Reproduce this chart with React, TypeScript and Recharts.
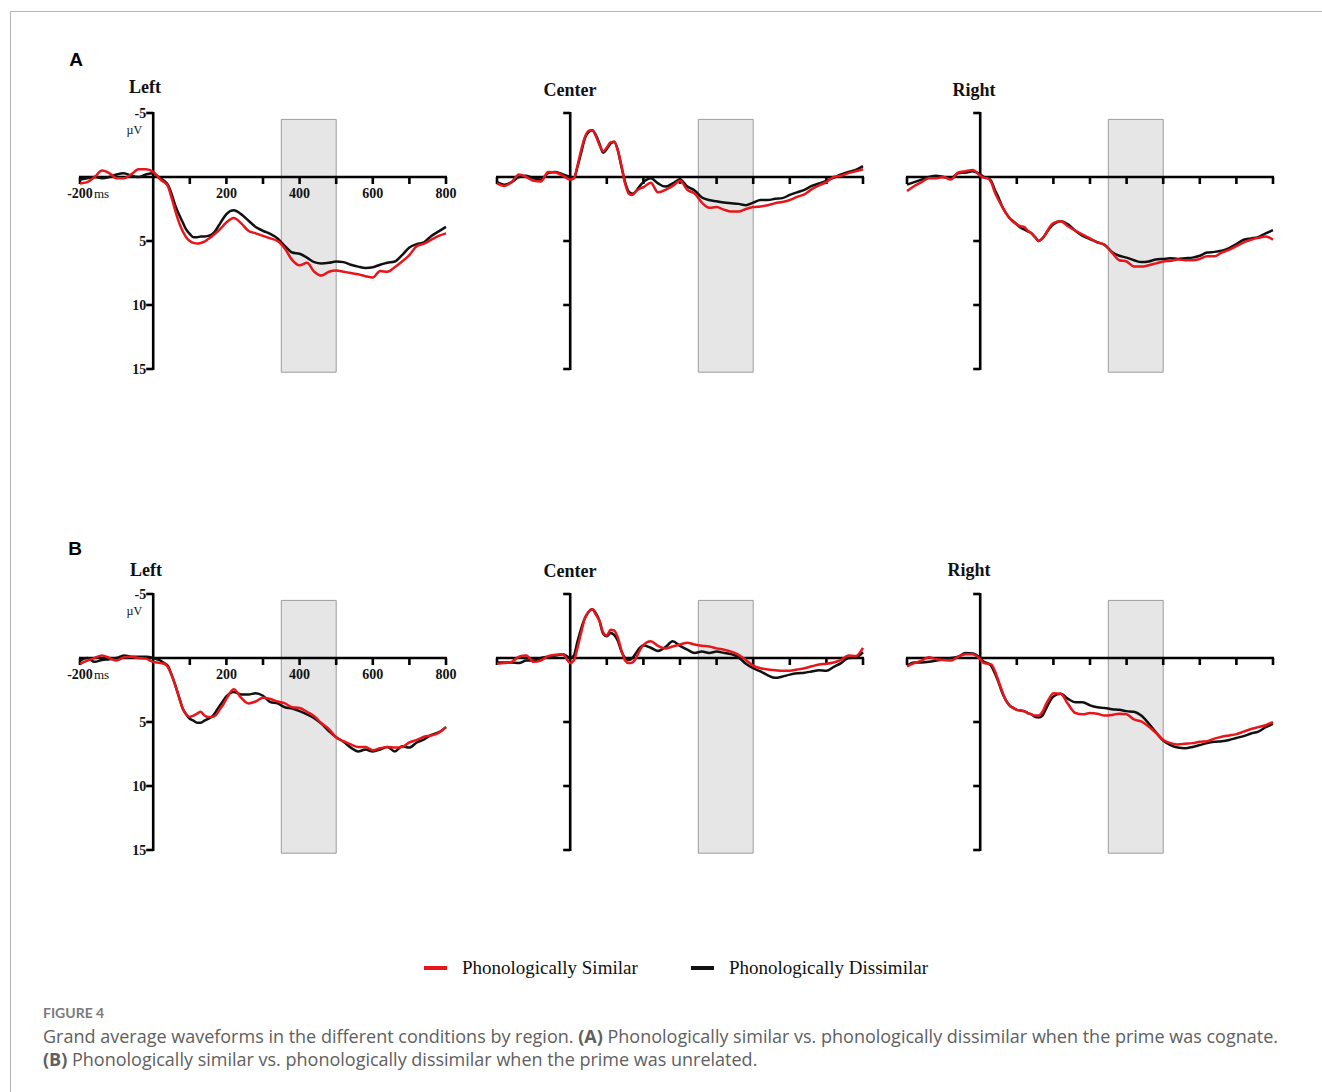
import React from "react"
import { LineChart, Line, XAxis, YAxis, ReferenceArea, ReferenceLine } from "recharts"

// time points (ms), finer steps over the early components
const TIME_MS = [
  -200, -180, -160, -140, -120, -100, -80, -60, -40, -20,
  0, 10, 20, 30, 40, 50, 60, 70, 80, 90, 100, 110, 120, 130, 140, 150, 160, 170, 180, 190,
  200, 220, 240, 260, 280, 300, 320, 340, 360, 380, 400, 420, 440, 460, 480, 500,
  520, 540, 560, 580, 600, 620, 640, 660, 680, 700, 720, 740, 760, 780, 800,
]

// (A) prime was cognate
const A_LEFT_SIMILAR = [
  0.5, 0.4, 0.0, -0.5, -0.3, 0.1, 0.1, -0.2, -0.6, -0.6,
  -0.4, -0.1, 0.2, 0.4, 0.7, 1.6, 2.6, 3.5, 4.2, 4.7, 5.0, 5.15, 5.2, 5.15, 5.05, 4.85, 4.65, 4.4, 4.15, 3.85,
  3.55, 3.2, 3.6, 4.2, 4.4, 4.6, 4.8, 5.0, 5.6, 6.5, 6.9, 6.7, 7.4, 7.7, 7.4, 7.3,
  7.4, 7.5, 7.6, 7.75, 7.85, 7.35, 7.4, 7.05, 6.6, 6.1, 5.4, 5.2, 4.9, 4.6, 4.4,
]
const A_LEFT_DISSIMILAR = [
  0.2, 0.1, 0.0, 0.1, 0.0, -0.2, -0.3, -0.1, 0.0, -0.2,
  -0.3, -0.1, 0.1, 0.3, 0.6, 1.3, 2.2, 2.9, 3.5, 4.1, 4.45, 4.7, 4.7, 4.65, 4.65, 4.6, 4.5, 4.2, 3.75, 3.3,
  2.9, 2.6, 2.9, 3.4, 3.9, 4.2, 4.45, 4.8, 5.4, 5.9, 6.0, 6.3, 6.65, 6.75, 6.7, 6.6,
  6.65, 6.85, 7.0, 7.1, 7.05, 6.85, 6.7, 6.6, 6.1, 5.5, 5.25, 5.1, 4.6, 4.25, 3.9,
]
const A_CENTER_SIMILAR = [
  0.5, 0.7, 0.4, -0.2, 0.0, 0.3, 0.35, -0.4, -0.35, -0.1,
  0.2, 0.1, -0.9, -2.1, -3.1, -3.6, -3.65, -3.2, -2.5, -2.0, -2.3, -2.7, -2.75, -2.1, -0.9, 0.5, 1.3, 1.4, 1.1, 0.9,
  0.8, 0.45, 1.2, 1.0, 0.7, 0.3, 1.0, 1.3, 2.0, 2.4, 2.35, 2.55, 2.7, 2.7, 2.5, 2.35,
  2.3, 2.2, 2.05, 1.95, 1.8, 1.55, 1.35, 0.95, 0.65, 0.4, 0.0, -0.1, -0.3, -0.45, -0.6,
]
const A_CENTER_DISSIMILAR = [
  0.4, 0.6, 0.4, 0.0, -0.1, 0.1, 0.2, -0.3, -0.4, -0.2,
  0.0, 0.1, -0.8, -1.9, -3.0, -3.5, -3.65, -3.3, -2.6, -1.9, -2.2, -2.6, -2.75, -2.1, -0.8, 0.4, 1.15, 1.3, 1.1, 0.7,
  0.4, 0.1, 0.5, 0.75, 0.5, 0.2, 0.75, 1.05, 1.6, 1.8, 1.9, 2.0, 2.05, 2.1, 2.2, 2.0,
  1.8, 1.8, 1.7, 1.65, 1.4, 1.2, 1.0, 0.7, 0.5, 0.3, 0.05, -0.2, -0.4, -0.55, -0.85,
]
const A_RIGHT_SIMILAR = [
  1.1, 0.7, 0.4, 0.1, 0.1, 0.0, 0.2, -0.35, -0.45, -0.55,
  -0.1, 0.05, 0.1, 0.4, 1.2, 1.8, 2.3, 2.8, 3.2, 3.5, 3.7, 3.85, 3.9, 4.2, 4.4, 4.7, 5.0, 4.8, 4.4, 3.9,
  3.6, 3.45, 3.85, 4.2, 4.5, 4.8, 5.1, 5.3, 5.9, 6.5, 6.6, 7.0, 7.0, 6.9, 6.75, 6.6,
  6.55, 6.45, 6.5, 6.5, 6.4, 6.2, 6.2, 5.9, 5.7, 5.4, 5.1, 4.9, 4.75, 4.65, 4.9,
]
const A_RIGHT_DISSIMILAR = [
  0.6, 0.4, 0.2, 0.0, -0.1, 0.0, 0.1, -0.3, -0.35, -0.45,
  -0.2, 0.0, 0.05, 0.3, 1.0, 1.6, 2.3, 2.8, 3.2, 3.45, 3.7, 3.95, 4.1, 4.25, 4.4, 4.7, 5.0, 4.8, 4.4, 4.0,
  3.7, 3.45, 3.7, 4.2, 4.6, 4.85, 5.1, 5.3, 5.85, 6.15, 6.3, 6.5, 6.65, 6.6, 6.45, 6.4,
  6.35, 6.4, 6.35, 6.3, 6.15, 5.9, 5.85, 5.75, 5.55, 5.25, 4.9, 4.8, 4.7, 4.4, 4.15,
]

// (B) prime was unrelated
const B_LEFT_SIMILAR = [
  0.45, 0.2, 0.0, -0.2, 0.0, 0.2, -0.05, -0.1, 0.0, 0.05,
  0.3, 0.35, 0.4, 0.45, 0.7, 1.3, 2.1, 3.0, 3.9, 4.4, 4.6, 4.5, 4.35, 4.2, 4.5, 4.6, 4.6, 4.5, 4.1, 3.7,
  3.2, 2.45, 3.1, 3.55, 3.4, 3.1, 3.2, 3.4, 3.55, 3.85, 3.9, 4.2, 4.55, 5.1, 5.55, 6.2,
  6.5, 6.75, 6.95, 6.95, 7.2, 7.05, 6.95, 7.0, 6.95, 6.6, 6.4, 6.15, 6.05, 5.85, 5.4,
]
const B_LEFT_DISSIMILAR = [
  0.2, 0.0, 0.3, 0.15, 0.1, 0.0, -0.2, -0.1, -0.1, -0.1,
  0.0, 0.1, 0.2, 0.4, 0.6, 1.3, 2.1, 3.0, 3.9, 4.4, 4.75, 4.9, 5.05, 5.05, 4.9, 4.75, 4.6, 4.25, 3.8, 3.4,
  3.0, 2.65, 2.85, 2.85, 2.75, 2.95, 3.45, 3.55, 3.85, 3.95, 4.15, 4.4, 4.7, 5.15, 5.7, 6.2,
  6.55, 7.0, 7.3, 7.15, 7.3, 7.15, 6.95, 7.3, 6.9, 7.0, 6.6, 6.35, 6.0, 5.8, 5.4,
]
const B_CENTER_SIMILAR = [
  0.45, 0.4, 0.3, -0.1, -0.2, 0.3, 0.2, -0.15, -0.25, -0.3,
  0.4, 0.2, -0.8, -2.0, -3.1, -3.6, -3.8, -3.4, -2.9, -2.0, -1.75, -2.2, -2.15, -1.6, -0.6, 0.2, 0.4, 0.35, 0.0, -0.6,
  -1.0, -1.3, -0.95, -0.75, -0.9, -1.05, -1.2, -1.05, -0.95, -0.9, -0.75, -0.65, -0.5, -0.25, 0.15, 0.6,
  0.8, 0.9, 0.95, 1.0, 1.0, 0.9, 0.8, 0.65, 0.5, 0.45, 0.35, 0.15, -0.2, -0.15, -0.8,
]
const B_CENTER_DISSIMILAR = [
  0.35, 0.35, 0.35, 0.4, 0.2, 0.2, 0.0, -0.1, -0.2, -0.3,
  0.0, -0.2, -1.3, -2.3, -3.1, -3.6, -3.8, -3.5, -2.9, -1.9, -1.7, -1.95, -1.8, -1.35, -0.5, 0.0, 0.15, 0.0, -0.4, -0.8,
  -1.0, -0.8, -0.55, -0.85, -1.3, -0.95, -0.65, -0.4, -0.5, -0.4, -0.5, -0.4, -0.3, -0.05, 0.45, 0.8,
  1.05, 1.35, 1.55, 1.45, 1.3, 1.2, 1.15, 1.05, 0.95, 1.0, 0.7, 0.4, 0.0, -0.05, -0.45,
]
const B_RIGHT_SIMILAR = [
  0.65, 0.4, 0.2, -0.05, 0.1, 0.15, 0.2, -0.1, -0.3, -0.3,
  0.1, 0.4, 0.45, 0.5, 1.0, 1.8, 2.6, 3.3, 3.7, 3.9, 4.05, 4.1, 4.15, 4.3, 4.4, 4.5, 4.5, 4.2, 3.6, 3.1,
  2.75, 2.8, 3.6, 4.3, 4.4, 4.3, 4.35, 4.5, 4.45, 4.35, 4.4, 4.8, 4.95, 5.35, 5.85, 6.4,
  6.65, 6.75, 6.7, 6.65, 6.55, 6.5, 6.3, 6.15, 6.05, 5.95, 5.75, 5.55, 5.4, 5.25, 5.0,
]
const B_RIGHT_DISSIMILAR = [
  0.6, 0.35, 0.35, 0.3, 0.2, 0.1, 0.0, -0.1, -0.4, -0.35,
  0.0, 0.3, 0.4, 0.6, 1.2, 1.9, 2.7, 3.3, 3.7, 3.9, 4.05, 4.1, 4.15, 4.3, 4.4, 4.6, 4.65, 4.5, 3.95, 3.4,
  3.0, 2.8, 3.2, 3.45, 3.45, 3.7, 3.85, 3.9, 4.0, 4.05, 4.15, 4.2, 4.5, 5.1, 5.8, 6.45,
  6.8, 7.0, 7.05, 6.95, 6.8, 6.65, 6.55, 6.5, 6.4, 6.25, 6.1, 5.9, 5.75, 5.4, 5.15,
]

const X_DOMAIN = [-200, 800]
const Y_DOMAIN = [-5, 15]
const X_TICKS = [-200, 100, 200, 300, 400, 500, 600, 700, 800]
const X_TICK_LABELS = [200, 400, 600, 800]
const Y_TICKS = [-5, 5, 10, 15]
const WINDOW_MS = [350, 500]
const WINDOW_UV = [-4.5, 15.25]

const SIMILAR_COLOR = "#e8161b"
const DISSIMILAR_COLOR = "#111111"
const SERIF = "'Liberation Serif', 'Times New Roman', serif"
const SANS = "'Liberation Sans', Arial, sans-serif"
const AXIS_W = 2.6

const PLOT_W = 366
const PLOT_H = 256
const M = { top: 20, right: 20, bottom: 20, left: 70 }
const COL_LEFT = [80, 497, 907]
const ROW_TOP = [113, 594]

const PANELS = [
  { row: 0, col: 0, title: "Left", tx: 145, ty: 87, similar: A_LEFT_SIMILAR, dissimilar: A_LEFT_DISSIMILAR },
  { row: 0, col: 1, title: "Center", tx: 570, ty: 90, similar: A_CENTER_SIMILAR, dissimilar: A_CENTER_DISSIMILAR },
  { row: 0, col: 2, title: "Right", tx: 974, ty: 90, similar: A_RIGHT_SIMILAR, dissimilar: A_RIGHT_DISSIMILAR },
  { row: 1, col: 0, title: "Left", tx: 146, ty: 570, similar: B_LEFT_SIMILAR, dissimilar: B_LEFT_DISSIMILAR },
  { row: 1, col: 1, title: "Center", tx: 570, ty: 571, similar: B_CENTER_SIMILAR, dissimilar: B_CENTER_DISSIMILAR },
  { row: 1, col: 2, title: "Right", tx: 969, ty: 570, similar: B_RIGHT_SIMILAR, dissimilar: B_RIGHT_DISSIMILAR },
]

// horizontal axis drawn along y = 0
function TimeAxis(props: any) {
  const { x1, x2, y1, labelled } = props
  const left = Math.min(x1, x2)
  const right = Math.max(x1, x2)
  const px = (v: number) => left + ((v - X_DOMAIN[0]) / (X_DOMAIN[1] - X_DOMAIN[0])) * (right - left)
  return (
    <g>
      <line x1={left - 1} x2={right + 1} y1={y1} y2={y1} stroke="#000" strokeWidth={AXIS_W} />
      {X_TICKS.map((v) => (
        <line key={v} x1={px(v)} x2={px(v)} y1={y1} y2={y1 + 7} stroke="#000" strokeWidth={AXIS_W} />
      ))}
      {labelled &&
        X_TICK_LABELS.map((v) => (
          <text key={v} x={px(v)} y={y1 + 21} textAnchor="middle" fontFamily={SERIF} fontWeight="bold" fontSize={14} fill="#111">
            {v}
          </text>
        ))}
      {labelled && (
        <>
          <text x={px(-200)} y={y1 + 21} textAnchor="middle" fontFamily={SERIF} fontWeight="bold" fontSize={14} fill="#111">
            -200
          </text>
          <text x={px(-200) + 14} y={y1 + 21} fontFamily={SERIF} fontSize={13} fill="#111">
            ms
          </text>
        </>
      )}
    </g>
  )
}

// vertical axis drawn along x = 0
function VoltAxis(props: any) {
  const { x1, y1, y2, labelled } = props
  const top = Math.min(y1, y2)
  const bottom = Math.max(y1, y2)
  const py = (v: number) => top + ((v - Y_DOMAIN[0]) / (Y_DOMAIN[1] - Y_DOMAIN[0])) * (bottom - top)
  return (
    <g>
      <line x1={x1} x2={x1} y1={top - 1} y2={bottom + 1} stroke="#000" strokeWidth={AXIS_W} />
      {Y_TICKS.map((v) => (
        <line key={v} x1={x1 - 7} x2={x1} y1={py(v)} y2={py(v)} stroke="#000" strokeWidth={AXIS_W} />
      ))}
      {labelled &&
        Y_TICKS.map((v) => (
          <text key={v} x={x1 - 7} y={py(v)} dy="0.35em" textAnchor="end" fontFamily={SERIF} fontWeight="bold" fontSize={14} fill="#111">
            {v}
          </text>
        ))}
      {labelled && (
        <text x={x1 - 11} y={py(-5) + 21} textAnchor="end" fontFamily={SERIF} fontSize={12} fill="#111">
          µV
        </text>
      )}
    </g>
  )
}

function Panel({ panel }: { panel: (typeof PANELS)[number] }) {
  const data = TIME_MS.map((t, i) => ({
    t,
    similar: panel.similar[i],
    dissimilar: panel.dissimilar[i],
  }))
  const labelled = panel.col === 0
  return (
    <div style={{ position: "absolute", left: COL_LEFT[panel.col] - M.left, top: ROW_TOP[panel.row] - M.top }}>
      <LineChart width={PLOT_W + M.left + M.right} height={PLOT_H + M.top + M.bottom} data={data} margin={M}>
        <XAxis dataKey="t" type="number" domain={X_DOMAIN} hide />
        <YAxis type="number" domain={Y_DOMAIN} reversed hide />
        <ReferenceArea
          x1={WINDOW_MS[0]}
          x2={WINDOW_MS[1]}
          y1={WINDOW_UV[0]}
          y2={WINDOW_UV[1]}
          fill="#e6e6e6"
          fillOpacity={1}
          stroke="#9c9c9c"
          strokeWidth={1}
          ifOverflow="visible"
        />
        <ReferenceLine y={0} shape={(p: any) => <TimeAxis {...p} labelled={labelled} />} />
        <ReferenceLine x={0} shape={(p: any) => <VoltAxis {...p} labelled={labelled} />} />
        <Line
          type="monotone"
          dataKey="dissimilar"
          stroke={DISSIMILAR_COLOR}
          strokeWidth={2.5}
          dot={false}
          isAnimationActive={false}
        />
        <Line
          type="monotone"
          dataKey="similar"
          stroke={SIMILAR_COLOR}
          strokeWidth={2.5}
          dot={false}
          isAnimationActive={false}
        />
      </LineChart>
      <div
        style={{
          position: "absolute",
          left: panel.tx - COL_LEFT[panel.col] + M.left,
          top: panel.ty - ROW_TOP[panel.row] + M.top,
          transform: "translate(-50%, -50%)",
          fontFamily: SERIF,
          fontWeight: "bold",
          fontSize: 18,
          color: "#111",
          whiteSpace: "nowrap",
        }}
      >
        {panel.title}
      </div>
    </div>
  )
}

export default function App() {
  const letter = (text: string, x: number, y: number) => (
    <div
      style={{
        position: "absolute",
        left: x,
        top: y,
        transform: "translate(-50%, -50%)",
        fontFamily: SANS,
        fontWeight: "bold",
        fontSize: 19,
        color: "#000",
      }}
    >
      {text}
    </div>
  )
  const legendItem = (label: string, color: string, x: number) => (
    <div style={{ position: "absolute", left: x, top: 956, display: "flex", alignItems: "center", height: 24 }}>
      <div style={{ width: 23, height: 4, background: color, marginRight: 15 }} />
      <span style={{ fontFamily: SERIF, fontSize: 19, color: "#111", whiteSpace: "nowrap" }}>{label}</span>
    </div>
  )
  return (
    <div style={{ position: "absolute", left: 0, top: 0, width: 1322, height: 1092, background: "#fff", overflow: "hidden" }}>
      <div style={{ position: "absolute", left: 10, top: 11, width: 1312, height: 1081, borderLeft: "1px solid #b5b5b5", borderTop: "1px solid #b5b5b5" }} />
      {letter("A", 76, 60)}
      {letter("B", 75, 549)}
      {PANELS.map((p, i) => (
        <Panel key={i} panel={p} />
      ))}
      {legendItem("Phonologically Similar", SIMILAR_COLOR, 424)}
      {legendItem("Phonologically Dissimilar", DISSIMILAR_COLOR, 691)}
      <div style={{ position: "absolute", left: 43, top: 1005, fontFamily: "Lato, sans-serif", fontSize: 14, fontWeight: 700, lineHeight: "16px", color: "#7a7a7a" }}>
        FIGURE 4
      </div>
      <div style={{ position: "absolute", left: 43, top: 1025, fontFamily: "'Open Sans', sans-serif", fontSize: 18, fontWeight: 400, lineHeight: "23px", color: "#606060", whiteSpace: "nowrap" }}>
        Grand average waveforms in the different conditions by region. <b>(A)</b> Phonologically similar vs. phonologically dissimilar when the prime was cognate.
        <br />
        <b>(B)</b> Phonologically similar vs. phonologically dissimilar when the prime was unrelated.
      </div>
    </div>
  )
}
